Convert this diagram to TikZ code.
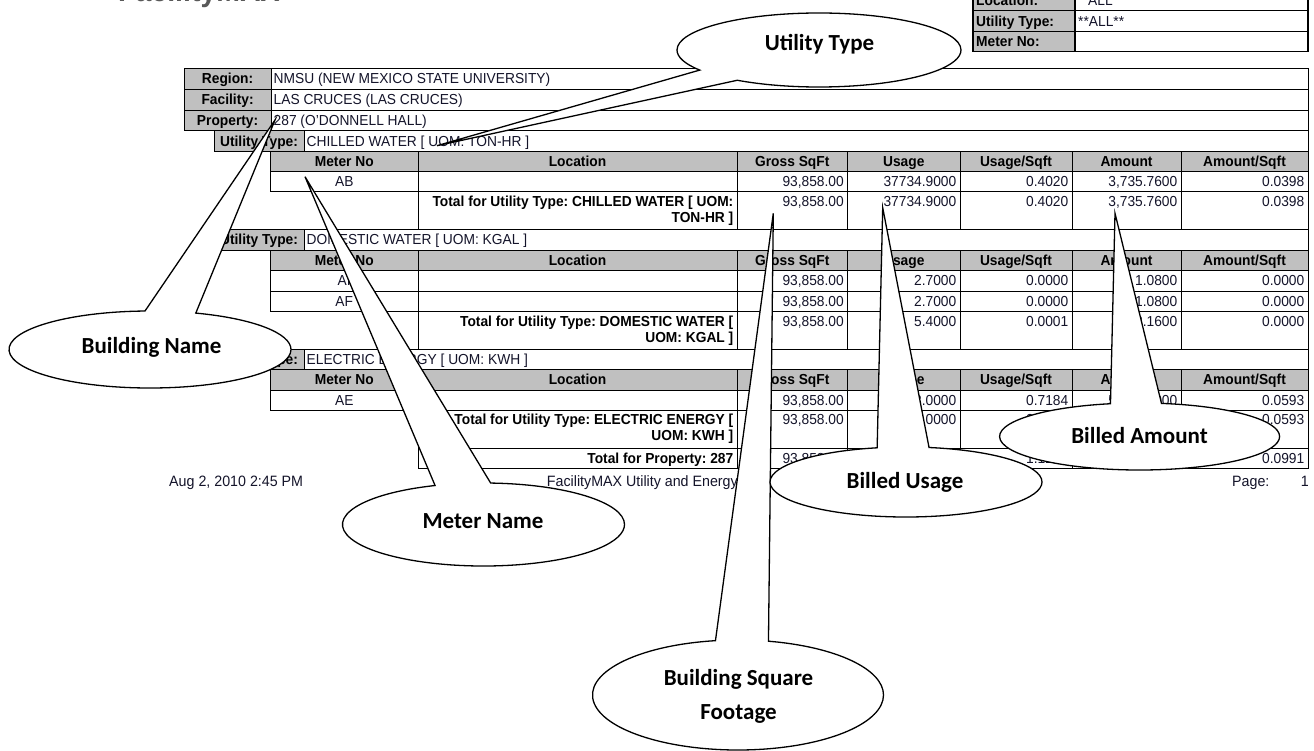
\documentclass[tikz,border=0pt]{standalone}
\usepackage{fontspec}
\setmainfont{Liberation Sans}[FakeStretch=0.95]
\newfontfamily\calfont{Carlito}
\usetikzlibrary{shapes.callouts}
\frenchspacing
\definecolor{hdrgray}{RGB}{192,192,192}
\definecolor{txtc}{RGB}{20,20,42}
\newcommand\tabfont{\fontsize{14.5}{16}\selectfont}
\newcommand\footfont{\fontsize{15}{17}\selectfont}
\newcommand\calsz{\calfont\bfseries\fontsize{23}{34}\selectfont}
\tikzset{
  gcell/.style={draw=black, line width=0.8pt, fill=hdrgray},
  wcell/.style={draw=black, line width=0.8pt, fill=white},
  gcellT/.style={draw=black, line width=1.3pt, fill=hdrgray},
  wcellT/.style={draw=black, line width=1.3pt, fill=white},
  celltxt/.style={inner sep=0pt, font=\tabfont, text=txtc},
  cellbold/.style={inner sep=0pt, font=\tabfont\bfseries, text=black},
  foottxt/.style={inner sep=0pt, font=\footfont, text=txtc},
  callbox/.style={ellipse callout, draw=black, line width=1.3pt, fill=white, inner sep=0pt},
  calltxt/.style={inner sep=0pt, font=\calsz, text=black, anchor=base},
}
% header row: y1 y2 name
\newcommand\hdrrow[3]{%
  \foreach \p/\q/\w [count=\i] in {270.5/418/Meter No,418/737/Location,737/847.5/Gross SqFt,847.5/960/Usage,960/1072/{Usage/Sqft},1072/1181/Amount,1181/1308/{Amount/Sqft}}{%
    \draw[gcell] (\p,#1) rectangle (\q,#2);
    \node[cellbold,anchor=base] (#3h\i) at ({(\p+\q)/2},{(#1+#2)/2+5}) {\w};
  }}
% data row: y1 y2 name meter gross usage usqft amount asqft
\newcommand\datarow[9]{%
  \foreach \p/\q in {270.5/418,418/737,737/847.5,847.5/960,960/1072,1072/1181,1181/1308}{\draw[wcell] (\p,#1) rectangle (\q,#2);}
  \node[celltxt,anchor=base] (#3m) at (344.25,{(#1+#2)/2+5}) {#4};
  \node[celltxt,anchor=base east] (#3g) at (844,{(#1+#2)/2+5}) {#5};
  \node[celltxt,anchor=base east] (#3u) at (956.5,{(#1+#2)/2+5}) {#6};
  \node[celltxt,anchor=base east] (#3s) at (1068.5,{(#1+#2)/2+5}) {#7};
  \node[celltxt,anchor=base east] (#3a) at (1177.5,{(#1+#2)/2+5}) {#8};
  \node[celltxt,anchor=base east] (#3t) at (1304.5,{(#1+#2)/2+5}) {#9};
}
% total row cells and label: y1 y2 name line1 line2
\newcommand\totrow[5]{%
  \foreach \p/\q in {418/737,737/847.5,847.5/960,960/1072,1072/1181,1181/1308}{\draw[wcell] (\p,#1) rectangle (\q,#2);}
  \node[cellbold,anchor=base east] (#3l1) at (733.5,{#1+14.5}) {#4};
  \node[cellbold,anchor=base east] (#3l2) at (733.5,{#1+30.5}) {#5};
}
% values at a baseline: ybase name g u s a t
\newcommand\totvals[7]{%
  \node[celltxt,anchor=base east] (#2g) at (844,#1) {#3};
  \node[celltxt,anchor=base east] (#2u) at (956.5,#1) {#4};
  \node[celltxt,anchor=base east] (#2s) at (1068.5,#1) {#5};
  \node[celltxt,anchor=base east] (#2a) at (1177.5,#1) {#6};
  \node[celltxt,anchor=base east] (#2t) at (1304.5,#1) {#7};
}
% utility type row: y1 y2 name value
\newcommand\utilrow[4]{%
  \draw[gcell] (214,#1) rectangle (304,#2);
  \draw[wcell] (304,#1) rectangle (1308,#2);
  \node[cellbold,anchor=base] (#3l) at (259,{(#1+#2)/2+5}) {Utility Type:};
  \node[celltxt,anchor=base west] (#3v) at (306.5,{(#1+#2)/2+5}) {#4};
}
\begin{document}
\begin{tikzpicture}[x=1pt,y=-1pt]
\useasboundingbox (0,0) rectangle (1314,751);
\fill[white] (0,0) rectangle (1314,751);

% cut-off logo
\node[anchor=base west, inner sep=0pt, font=\bfseries\fontsize{30}{30}\selectfont, text=black!65] (logo) at (118,2) {FacilityMAX};

% top-right parameter table
\draw[gcellT] (973,-10.3) rectangle (1075,10.7);
\draw[wcellT] (1075,-10.3) rectangle (1308,10.7);
\draw[gcellT] (973,10.7) rectangle (1075,31.7);
\draw[wcellT] (1075,10.7) rectangle (1308,31.7);
\draw[gcellT] (973,31.7) rectangle (1075,51.7);
\draw[wcellT] (1075,31.7) rectangle (1308,51.7);
\node[cellbold,anchor=base west] (pLocL) at (976,5.2) {Location:};
\node[celltxt,anchor=base west] (pLocV) at (1088,5.2) {ALL};
\node[cellbold,anchor=base west] (pUtL) at (976,26.2) {Utility Type:};
\node[celltxt,anchor=base west] (pUtV) at (1078,26.2) {**ALL**};
\node[cellbold,anchor=base west] (pMnL) at (976,46.7) {Meter No:};

% region / facility / property
\draw[gcell] (184.3,68.3) rectangle (271,89.3);
\draw[wcell] (271,68.3) rectangle (1308,89.3);
\draw[gcell] (184.3,89.3) rectangle (271,110);
\draw[wcell] (271,89.3) rectangle (1308,110);
\draw[gcell] (184.3,110) rectangle (271,130.7);
\draw[wcell] (271,110) rectangle (1308,130.7);
\node[cellbold,anchor=base] (rgL) at (227.6,83.8) {Region:};
\node[celltxt,anchor=base west] (rgV) at (273.5,83.8) {NMSU (NEW MEXICO STATE UNIVERSITY)};
\node[cellbold,anchor=base] (faL) at (227.6,104.6) {Facility:};
\node[celltxt,anchor=base west] (faV) at (273.5,104.6) {LAS CRUCES (LAS CRUCES)};
\node[cellbold,anchor=base] (prL) at (227.6,125.3) {Property:};
\node[celltxt,anchor=base west] (prV) at (273.5,125.3) {287 (O'DONNELL HALL)};

% chilled water
\utilrow{130.7}{151.7}{uA}{CHILLED WATER [ UOM: TON-HR ]}
\hdrrow{151.7}{171.7}{hA}
\datarow{171.7}{191.7}{dAB}{AB}{93,858.00}{37734.9000}{0.4020}{3,735.7600}{0.0398}
\totrow{191.7}{229.7}{tA}{Total for Utility Type: CHILLED WATER [ UOM:}{TON-HR ]}
\totvals{206.2}{tvA}{93,858.00}{37734.9000}{0.4020}{3,735.7600}{0.0398}

% domestic water
\utilrow{229.7}{250}{uB}{DOMESTIC WATER [ UOM: KGAL ]}
\hdrrow{250}{270.5}{hB}
\datarow{270.5}{291}{dAI}{AI}{93,858.00}{2.7000}{0.0000}{1.0800}{0.0000}
\datarow{291}{311.5}{dAF}{AF}{93,858.00}{2.7000}{0.0000}{1.0800}{0.0000}
\totrow{311.5}{349.3}{tB}{Total for Utility Type: DOMESTIC WATER [}{UOM: KGAL ]}
\totvals{326}{tvB}{93,858.00}{5.4000}{0.0001}{2.1600}{0.0000}

% electric energy
\utilrow{349.3}{369.3}{uC}{ELECTRIC ENERGY [ UOM: KWH ]}
\hdrrow{369.3}{390}{hC}
\datarow{390}{410}{dAE}{AE}{93,858.00}{67423.0000}{0.7184}{5,565.6000}{0.0593}
\totrow{410}{448.3}{tC}{Total for Utility Type: ELECTRIC ENERGY [}{UOM: KWH ]}
\totvals{424.5}{tvC}{93,858.00}{67423.0000}{0.7184}{5,565.6000}{0.0593}

% total for property
\foreach \p/\q in {418/737,737/847.5,847.5/960,960/1072,1072/1181,1181/1308}{\draw[wcell] (\p,448.3) rectangle (\q,468.3);}
\node[cellbold,anchor=base east] (tPl) at (733.5,463.3) {Total for Property: 287};
\totvals{463.3}{tvP}{93,858.00}{105163.3000}{1.1205}{9,303.5200}{0.0991}

% footer
\node[foottxt,anchor=base west] (fDate) at (169,486.7) {Aug 2, 2010 2:45 PM};
\node[foottxt,anchor=base east] (fTitle) at (738,486.7) {FacilityMAX Utility and Energy};
\node[foottxt,anchor=base west] (fPage) at (1232,486.7) {Page:};
\node[foottxt,anchor=base east] (fNum) at (1309,486.7) {1};

% callouts
\coordinate (tipU) at (437,145.7);
\coordinate (tipB) at (275,120);
\coordinate (tipM) at (305,176.7);
\coordinate (tipS) at (773.3,213.3);
\coordinate (tipBU) at (882.7,207.7);
\coordinate (tipBA) at (1115,213.3);

\node[callbox, minimum width=284pt, minimum height=74pt, callout absolute pointer={(tipU)}, callout pointer arc=22] (cUtil) at (819,50) {};
\node[calltxt] (cUtilT) at (819.5,51) {Utility Type};
\node[callbox, minimum width=282pt, minimum height=77pt, callout absolute pointer={(tipB)}, callout pointer arc=21] (cBldg) at (150,349.5) {};
\node[calltxt] (cBldgT) at (151.5,353) {Building Name};
\node[callbox, minimum width=282pt, minimum height=83pt, callout absolute pointer={(tipM)}, callout pointer arc=23] (cMeter) at (483.5,524.5) {};
\node[calltxt] (cMeterT) at (483,528) {Meter Name};
\node[callbox, minimum width=291pt, minimum height=110pt, callout absolute pointer={(tipS)}, callout pointer arc=21] (cSq) at (738,695) {};
\node[calltxt] (cSqT1) at (738.5,685) {Building Square};
\node[calltxt] (cSqT2) at (738.5,719) {Footage};
\node[callbox, minimum width=272pt, minimum height=70pt, callout absolute pointer={(tipBU)}, callout pointer arc=22] (cUsage) at (906,482) {};
\node[calltxt] (cUsageT) at (905,488) {Billed Usage};
\node[callbox, minimum width=280pt, minimum height=67pt, callout absolute pointer={(tipBA)}, callout pointer arc=21] (cAmt) at (1139.6,436.5) {};
\node[calltxt] (cAmtT) at (1139.5,443.5) {Billed Amount};
\end{tikzpicture}
\end{document}
